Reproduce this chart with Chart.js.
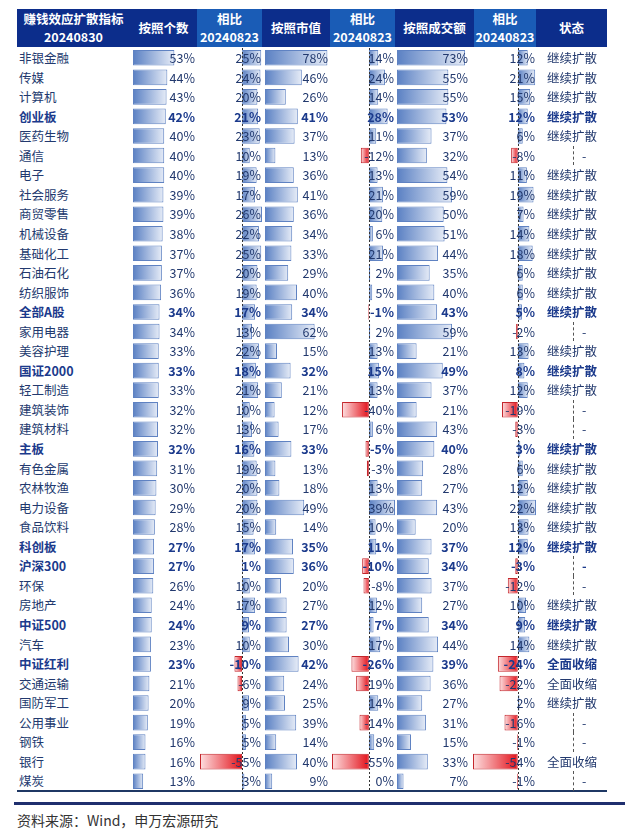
<!DOCTYPE html>
<html>
<head>
<meta charset="utf-8">
<script src="https://cdn.jsdelivr.net/npm/chart.js@4.4.1/dist/chart.umd.min.js"></script>
<style>
body { margin: 0; background: #fff; }
#page { position: relative; width: 625px; height: 840px; overflow: hidden; font-family: "Noto Sans CJK SC", "Noto Sans", sans-serif; }
.hd { position: absolute; top: 9px; height: 38px; color: #fff; font-weight: bold; font-size: 12.5px;
      display: flex; flex-direction: column; align-items: center; justify-content: center; text-align: center; }
.hd span { display: block; line-height: 18px; height: 18px; }
.cell { position: absolute; height: 19.55px; line-height: 19.55px; font-size: 12.5px; white-space: nowrap; color: #22396e; z-index: 2; }
.cell.b { font-weight: bold; color: #1b3a8c; }
.chartbox { position: absolute; top: 48px; height: 743px; z-index: 1; }
.dash { position: absolute; width: 0; height: 19.55px; border-left: 1px dashed #555; z-index: 1; }
.rule { position: absolute; }
.src { position: absolute; left: 17px; top: 810px; font-size: 14px; color: #333; }
</style>
</head>
<body>
<div id="page"></div>
<script>
// ---- data ----
const headerLabels = ['赚钱效应扩散指标\n20240830', '按照个数', '相比\n20240823', '按照市值', '相比\n20240823', '按照成交额', '相比\n20240823', '状态'];

const names = ['非银金融', '传媒', '计算机', '创业板', '医药生物', '通信', '电子', '社会服务', '商贸零售', '机械设备',
  '基础化工', '石油石化', '纺织服饰', '全部A股', '家用电器', '美容护理', '国证2000', '轻工制造', '建筑装饰', '建筑材料',
  '主板', '有色金属', '农林牧渔', '电力设备', '食品饮料', '科创板', '沪深300', '环保', '房地产', '中证500',
  '汽车', '中证红利', '交通运输', '国防军工', '公用事业', '钢铁', '银行', '煤炭'];

const boldRows = ['创业板', '全部A股', '国证2000', '主板', '科创板', '沪深300', '中证500', '中证红利'];

const countPct = [53, 44, 43, 42, 40, 40, 40, 39, 39, 38, 37, 37, 36, 34, 34, 33, 33, 33, 32, 32,
  32, 31, 30, 29, 28, 27, 27, 26, 24, 24, 23, 23, 21, 20, 19, 16, 16, 13];
const countChg = [25, 24, 20, 21, 23, 10, 19, 17, 26, 22, 25, 20, 19, 17, 13, 22, 18, 21, 10, 13,
  16, 19, 20, 20, 15, 17, 1, 10, 17, 9, 10, -10, -6, 9, 5, 5, -55, 3];
const capPct = [78, 46, 26, 41, 37, 13, 36, 41, 36, 34, 33, 29, 40, 34, 62, 15, 32, 21, 12, 17,
  33, 13, 18, 49, 14, 35, 36, 20, 27, 27, 30, 42, 24, 25, 39, 14, 40, 9];
const capChg = [14, 24, 14, 28, 11, -12, 13, 21, 20, 6, 21, 2, 5, -1, 2, 13, 15, 13, -40, 6,
  -5, -3, 13, 39, 10, 11, -10, -8, 12, 7, 17, -26, -19, 14, -14, 8, -55, 0];
const turnoverPct = [73, 55, 55, 53, 37, 32, 54, 59, 50, 51, 44, 35, 40, 43, 59, 21, 49, 37, 21, 43,
  40, 28, 27, 43, 20, 37, 34, 37, 27, 34, 44, 39, 36, 27, 31, 15, 33, 7];
const turnoverChg = [12, 21, 15, 12, 6, -8, 11, 19, 7, 14, 18, 6, 6, 5, -2, 13, 8, 12, -19, -3,
  3, 6, 12, 22, 13, 12, -3, -12, 10, 9, 14, -24, -22, 2, -16, -1, -54, -1];
const status = ['继续扩散', '继续扩散', '继续扩散', '继续扩散', '继续扩散', '-', '继续扩散', '继续扩散', '继续扩散', '继续扩散',
  '继续扩散', '继续扩散', '继续扩散', '继续扩散', '-', '继续扩散', '继续扩散', '继续扩散', '-', '-',
  '继续扩散', '继续扩散', '继续扩散', '继续扩散', '继续扩散', '继续扩散', '-', '-', '继续扩散', '继续扩散',
  '继续扩散', '全面收缩', '全面收缩', '继续扩散', '-', '-', '全面收缩', '-'];

const sourceText = '资料来源：Wind，申万宏源研究';

// ---- layout ----
const page = document.getElementById('page');
const TOP = 48, ROW = 19.55;
const DARK = '#0c2d8b', LIGHT = '#1a5cb6';

const headerCells = [
  { left: 17, width: 113, bg: DARK },
  { left: 130, width: 67, bg: DARK },
  { left: 197, width: 65, bg: LIGHT },
  { left: 262, width: 68, bg: DARK },
  { left: 330, width: 65, bg: LIGHT },
  { left: 395, width: 79, bg: DARK },
  { left: 474, width: 62, bg: LIGHT },
  { left: 536, width: 71, bg: DARK }
];

// bar columns: chart span in px and value range of the data bar axis
const columns = [
  { data: countPct, left: 133, width: 64, min: 0, max: 82, textRight: 195 },
  { data: countChg, left: 200, width: 62, min: -55, max: 26, textRight: 261 },
  { data: capPct, left: 265, width: 64, min: 0, max: 80, textRight: 328 },
  { data: capChg, left: 332, width: 63, min: -55, max: 39, textRight: 394 },
  { data: turnoverPct, left: 397, width: 70, min: 0, max: 75, textRight: 468 },
  { data: turnoverChg, left: 473, width: 63, min: -54, max: 22, textRight: 535 }
];

function addDiv(cls, style, text) {
  const d = document.createElement('div');
  d.className = cls;
  Object.assign(d.style, style);
  if (text !== undefined) d.textContent = text;
  page.appendChild(d);
  return d;
}

// header
headerCells.forEach((h, i) => {
  const d = addDiv('hd', { left: h.left + 'px', width: h.width + 'px', background: h.bg });
  headerLabels[i].split('\n').forEach(line => {
    const s = document.createElement('span');
    s.textContent = line;
    d.appendChild(s);
  });
});

// text cells
names.forEach((name, i) => {
  const top = (TOP + i * ROW) + 'px';
  const cls = boldRows.includes(name) ? 'cell b' : 'cell';
  addDiv(cls, { left: '19px', top }, name);
  columns.forEach(col => {
    addDiv(cls, { right: (625 - col.textRight) + 'px', top, textAlign: 'right' }, col.data[i] + '%');
  });
  if (status[i] === '-') {
    addDiv('dash', { left: '573px', top });
    addDiv(cls, { left: '582px', top }, '-');
  } else {
    addDiv(cls, { left: '547px', top }, status[i]);
  }
});

// rules + source
addDiv('rule', { left: '17px', top: '790px', width: '590px', height: '2px', background: '#1f3864' });
addDiv('rule', { left: '14px', top: '802px', width: '611px', height: '3px', background: '#1f2f6e' });
addDiv('src', {}, sourceText);

// ---- charts ----
// gradient data bars: solid at the axis, fading to white at the bar end
const gradientBars = {
  id: 'gradientBars',
  beforeDatasetsDraw(chart) {
    const ctx = chart.ctx;
    chart.getDatasetMeta(0).data.forEach(el => {
      const x0 = el.base, x1 = el.x;
      if (!isFinite(x0) || !isFinite(x1) || x0 === x1) return;
      const g = ctx.createLinearGradient(x0, 0, x1, 0);
      if (x1 < x0) {
        g.addColorStop(0, '#e3121b');
        g.addColorStop(1, '#fde0e1');
      } else {
        g.addColorStop(0, '#5a80c3');
        g.addColorStop(1, '#e6ecf7');
      }
      el.options.backgroundColor = g;
    });
  }
};

// dashed axis line at zero for the change columns
const zeroLine = {
  id: 'zeroLine',
  afterDatasetsDraw(chart) {
    const { ctx, chartArea, scales } = chart;
    const x = Math.round(scales.x.getPixelForValue(0)) + 0.5;
    ctx.save();
    ctx.strokeStyle = '#333';
    ctx.lineWidth = 1;
    ctx.setLineDash([2, 2]);
    ctx.beginPath();
    ctx.moveTo(x, chartArea.top);
    ctx.lineTo(x, chartArea.bottom);
    ctx.stroke();
    ctx.restore();
  }
};

columns.forEach(col => {
  const box = addDiv('chartbox', { left: col.left + 'px', width: col.width + 'px' });
  const canvas = document.createElement('canvas');
  box.appendChild(canvas);

  new Chart(canvas, {
    type: 'bar',
    data: {
      labels: names,
      datasets: [{
        data: col.data,
        backgroundColor: ctx => (ctx.raw < 0 ? '#f07a7e' : '#aabfe3'),
        borderColor: ctx => (ctx.raw < 0 ? '#c4262c' : '#5f82c2'),
        borderWidth: 1,
        borderSkipped: false,
        barPercentage: 1,
        categoryPercentage: 0.8
      }]
    },
    options: {
      indexAxis: 'y',
      responsive: true,
      maintainAspectRatio: false,
      animation: false,
      events: [],
      layout: { padding: 0 },
      plugins: { legend: { display: false }, tooltip: { enabled: false } },
      scales: {
        x: { display: false, min: col.min, max: col.max },
        y: { display: false }
      }
    },
    plugins: col.min < 0 ? [gradientBars, zeroLine] : [gradientBars]
  });
});
</script>
</body>
</html>
